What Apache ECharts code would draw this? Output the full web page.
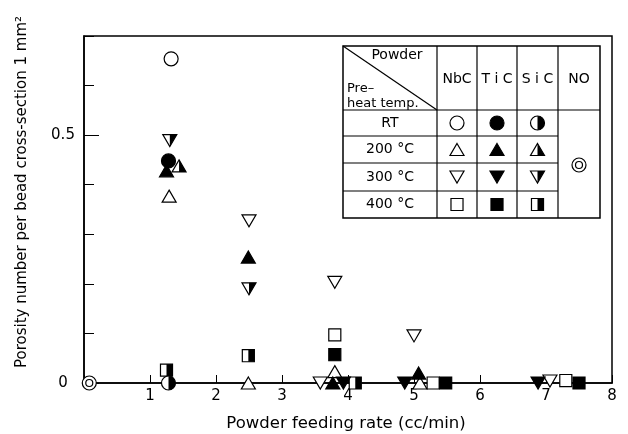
<!DOCTYPE html>
<html><head><meta charset="utf-8">
<script src="https://cdn.jsdelivr.net/npm/echarts@6/dist/echarts.min.js"></script>
<style>html,body{margin:0;padding:0;background:#fff}#c{width:628px;height:434px}</style>
</head><body><div id="c"></div>
<script>
// ---- data (x = powder feeding rate cc/min, y = porosity number per mm2) ----
const xTickValues = [1,2,3,4,5,6,7,8];
const yLabelValues = [0, 0.5];
const nbcRT   = [[1.32,0.654]];
const ticRT   = [[1.28,0.448]];
const sicRT   = [[1.28,0]];
const nbc200  = [[1.29,0.377],[2.49,0],[3.80,0.023],[5.09,0]];
const tic200  = [[1.25,0.428],[2.49,0.254],[3.77,0],[5.07,0.02]];
const sic200  = [[1.44,0.438]];
const nbc300  = [[2.50,0.327],[3.80,0.203],[3.58,0],[5.00,0.095],[7.06,0.004]];
const tic300  = [[3.93,0],[4.86,0],[6.88,0]];
const sic300  = [[1.30,0.489],[2.50,0.19]];
const nbc400  = [[3.80,0.097],[5.29,0],[7.30,0.005]];
const tic400  = [[3.80,0.057],[5.48,0],[7.50,0]];
const sic400  = [[1.25,0.026],[2.49,0.055],[4.11,0]];
const noPowder = [[0.08,0]];
const colHeads = ['NbC','T i C','S i C','NO'];
const rowHeads = ['RT','200 °C','300 °C','400 °C'];
const xTitle = 'Powder feeding rate (cc/min)';
const yTitle = 'Porosity number per bead cross-section 1 mm²';

const FONT2 = '"DejaVu Sans", sans-serif';
const K = '#000';

function shapes(kind, cx, cy, s){
  const r = s/2, lw = 1.2, out = [];
  const wht = {fill:'#fff', stroke:K, lineWidth:lw};
  const blk = {fill:K, stroke:K, lineWidth:lw};
  const h = s*0.86;
  const base = kind.slice(0,-1), f = kind.slice(-1); // O open, F fill, H half
  if (kind === 'target'){
    out.push({type:'circle', shape:{cx,cy,r}, style:wht});
    out.push({type:'circle', shape:{cx,cy,r:r*0.5}, style:{fill:'none',stroke:K,lineWidth:lw}});
    return out;
  }
  if (base === 'circ'){
    out.push({type:'circle', shape:{cx,cy,r}, style: f==='F'?blk:wht});
    if (f==='H') out.push({type:'sector', shape:{cx,cy,r0:0,r,startAngle:-Math.PI/2,endAngle:Math.PI/2,clockwise:true}, style:{fill:K}});
  } else if (base === 'up'){
    const t=cy-h/2, b=cy+h/2;
    out.push({type:'polygon', shape:{points:[[cx,t],[cx+r,b],[cx-r,b]]}, style: f==='F'?blk:wht});
    if (f==='H') out.push({type:'polygon', shape:{points:[[cx,t],[cx+r,b],[cx,b]]}, style:{fill:K}});
  } else if (base === 'dn'){
    const t=cy-h/2, b=cy+h/2;
    out.push({type:'polygon', shape:{points:[[cx-r,t],[cx+r,t],[cx,b]]}, style: f==='F'?blk:wht});
    if (f==='H') out.push({type:'polygon', shape:{points:[[cx,t],[cx+r,t],[cx,b]]}, style:{fill:K}});
  } else if (base === 'sq'){
    const a = s*0.86;
    out.push({type:'rect', shape:{x:cx-a/2,y:cy-a/2,width:a,height:a}, style: f==='F'?blk:wht});
    if (f==='H') out.push({type:'rect', shape:{x:cx,y:cy-a/2,width:a/2,height:a}, style:{fill:K}});
  }
  return out;
}

const defs = [
  ['NO', noPowder, 'target'],
  ['SiC 400', sic400, 'sqH'],
  ['NbC 200', nbc200, 'upO'],
  ['NbC 300', nbc300, 'dnO'],
  ['NbC 400', nbc400, 'sqO'],
  ['TiC 400', tic400, 'sqF'],
  ['TiC 200', tic200, 'upF'],
  ['TiC 300', tic300, 'dnF'],
  ['SiC 300', sic300, 'dnH'],
  ['SiC RT', sicRT, 'circH'],
  ['NbC RT', nbcRT, 'circO'],
  ['TiC RT', ticRT, 'circF'],
  ['SiC 200', sic200, 'upH'],
];
const SZ = 14;
const series = defs.map(([name, data, kind]) => ({
  type:'custom', name, data, encode:{x:0,y:1}, clip:false, silent:true,
  renderItem:(params, api) => {
    const p = api.coord([api.value(0), api.value(1)]);
    return {type:'group', children: shapes(kind, p[0], p[1], SZ)};
  }
}));

// ---- legend table (drawn as graphics) ----
const cx = [343, 437, 477, 517, 558, 600];
const ry = [46, 110, 136, 163, 191, 218];
const g = [];
const ln = (x1,y1,x2,y2,w) => g.push({type:'line', shape:{x1,y1,x2,y2}, style:{stroke:K, lineWidth:w||1.2}, z:10});
g.push({type:'rect', shape:{x:cx[0],y:ry[0],width:cx[5]-cx[0],height:ry[5]-ry[0]}, style:{fill:'#fff',stroke:K,lineWidth:1.5}, z:9});
for (let i=1;i<5;i++) ln(cx[i],ry[0],cx[i],ry[5]);
ln(cx[0],ry[1],cx[5],ry[1]);
for (let j=2;j<5;j++) ln(cx[0],ry[j],cx[4],ry[j]);
ln(cx[0],ry[0],cx[1],ry[1]);
const txt = (x,y,text,align,size) => g.push({type:'text', x, y, style:{text, fill:K, font:`${size||14}px ${FONT2}`, align:align||'center', verticalAlign:'middle'}, z:11});
txt(397,55,'Powder','center');
txt(347,89,'Pre–','left',13);
txt(347,104,'heat temp.','left',13);
colHeads.forEach((t,i)=>txt((cx[i+1]+cx[i+2])/2,79,t,'center'));
rowHeads.forEach((t,j)=>txt((cx[0]+cx[1])/2,(ry[j+1]+ry[j+2])/2,t,'center'));
const tableKinds = [['circO','circF','circH'],['upO','upF','upH'],['dnO','dnF','dnH'],['sqO','sqF','sqH']];
tableKinds.forEach((row,j)=>row.forEach((k,i)=>{
  shapes(k,(cx[i+1]+cx[i+2])/2,(ry[j+1]+ry[j+2])/2,SZ).forEach(e=>{e.z=11; g.push(e);});
}));
shapes('target',(cx[4]+cx[5])/2,165,SZ).forEach(e=>{e.z=11; g.push(e);});
// axis titles
g.push({type:'text', x:346, y:424, style:{text:xTitle, fill:K, font:`16.5px ${FONT2}`, align:'center', verticalAlign:'middle'}});
g.push({type:'text', x:22, y:192, rotation:Math.PI/2, style:{text:yTitle, fill:K, font:`15px ${FONT2}`, align:'center', verticalAlign:'middle'}});

const chart = echarts.init(document.getElementById('c'), null, {renderer:'canvas'});
chart.setOption({
  animation:false,
  backgroundColor:'#fff',
  textStyle:{fontFamily:FONT2},
  grid:{left:84, right:16, top:36, bottom:51, show:true, borderColor:K, borderWidth:1.5, backgroundColor:'transparent'},
  xAxis:{type:'value', min:0, max:8, interval:1,
    axisLine:{lineStyle:{color:K,width:1.5}},
    axisTick:{inside:true, length:8, lineStyle:{color:K}},
    axisLabel:{color:K, fontSize:15, fontFamily:FONT2, margin:6, formatter:v => xTickValues.includes(v)? String(v):''},
    splitLine:{show:false}},
  yAxis:[{type:'value', min:0, max:0.7, interval:0.1,
    axisLine:{lineStyle:{color:K,width:1.5}},
    axisTick:{inside:true, length:10, lineStyle:{color:K}},
    axisLabel:{show:false}, splitLine:{show:false}},
   {type:'value', min:0, max:0.7, interval:0.5, position:'left',
    axisLine:{show:false}, axisTick:{inside:true, length:15, lineStyle:{color:K}},
    axisLabel:{color:K, fontSize:15, fontFamily:FONT2, margin:21, align:'center', showMaxLabel:false, formatter:v => yLabelValues.includes(v)? String(v):''},
    splitLine:{show:false}}],
  series,
  graphic: g
});
</script></body></html>
